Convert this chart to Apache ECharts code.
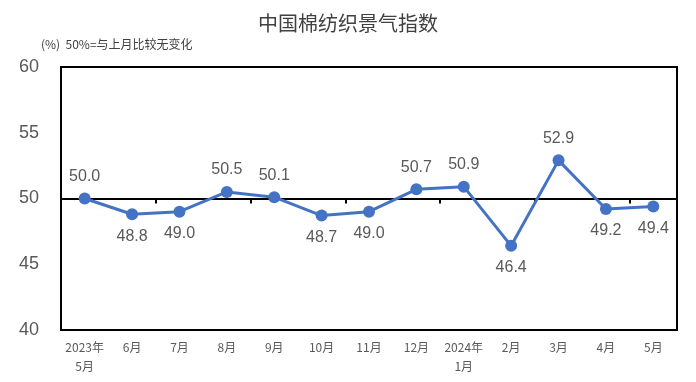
<!DOCTYPE html>
<html><head><meta charset="utf-8">
<script src="https://cdn.jsdelivr.net/npm/echarts@6/dist/echarts.min.js"></script>
<style>html,body{margin:0;padding:0;background:#fff}#c{width:696px;height:382px}</style>
</head><body><div id="c"></div>
<script>
const categories = ['2023年\n5月','6月','7月','8月','9月','10月','11月','12月','2024年\n1月','2月','3月','4月','5月'];
const values = [50.0,48.8,49.0,50.5,50.1,48.7,49.0,50.7,50.9,46.4,52.9,49.2,49.4];
const labelPos = ['top','bottom','bottom','top','top','bottom','bottom','top','top','bottom','top','bottom','bottom'];
const yTicks = [40,45,50,55,60];

const gridTop = 67, gridBottom = 52;
const gridH = 382 - gridTop - gridBottom;
const chart = echarts.init(document.getElementById('c'));
const fontCJK = '"Noto Sans CJK SC", "Noto Sans", sans-serif';
chart.setOption({
  animation: false,
  title: [
    {text: '中国棉纺织景气指数', left: 'center', top: 8, textStyle: {fontSize: 20, fontWeight: 'normal', color: '#404040', fontFamily: fontCJK}},
    {text: '(%)  50%=与上月比较无变化', left: 36, top: 33, textStyle: {fontSize: 12, fontWeight: 'normal', color: '#404040', fontFamily: fontCJK}}
  ],
  grid: {left: 61, right: 19, top: gridTop, bottom: gridBottom, show: true, borderColor: '#000', borderWidth: 2, backgroundColor: 'transparent'},
  xAxis: [
    {type: 'category', data: categories, boundaryGap: true, position: 'bottom',
     axisLine: {show: false}, axisTick: {show: false},
     axisLabel: {color: '#595959', fontSize: 12, margin: 8, lineHeight: 19, fontFamily: fontCJK, interval: 0}},
    {type: 'category', data: categories, boundaryGap: true, position: 'top', offset: -gridH * (60 - 50) / (60 - 40),
     axisLine: {show: true, lineStyle: {color: '#000', width: 2}},
     axisTick: {show: true, inside: true, length: 5, lineStyle: {color: '#000', width: 2}},
     axisLabel: {show: false}}
  ],
  yAxis: {type: 'value', min: 40, max: 60, interval: 5,
    axisLine: {show: false}, axisTick: {show: false}, splitLine: {show: false},
    axisLabel: {color: '#595959', fontSize: 18, margin: 22, fontFamily: 'Liberation Sans, sans-serif'}},
  series: [{
    type: 'line', data: values.map((v, i) => ({value: v, label: {position: labelPos[i]}})),
    xAxisIndex: 0,
    symbol: 'circle', symbolSize: 12,
    lineStyle: {color: '#4472C4', width: 3},
    itemStyle: {color: '#4472C4'},
    label: {show: true, formatter: p => p.value.toFixed(1), color: '#595959', fontSize: 16, distance: 8, fontFamily: 'Liberation Sans, sans-serif'},
    z: 5
  }]
});
</script></body></html>
